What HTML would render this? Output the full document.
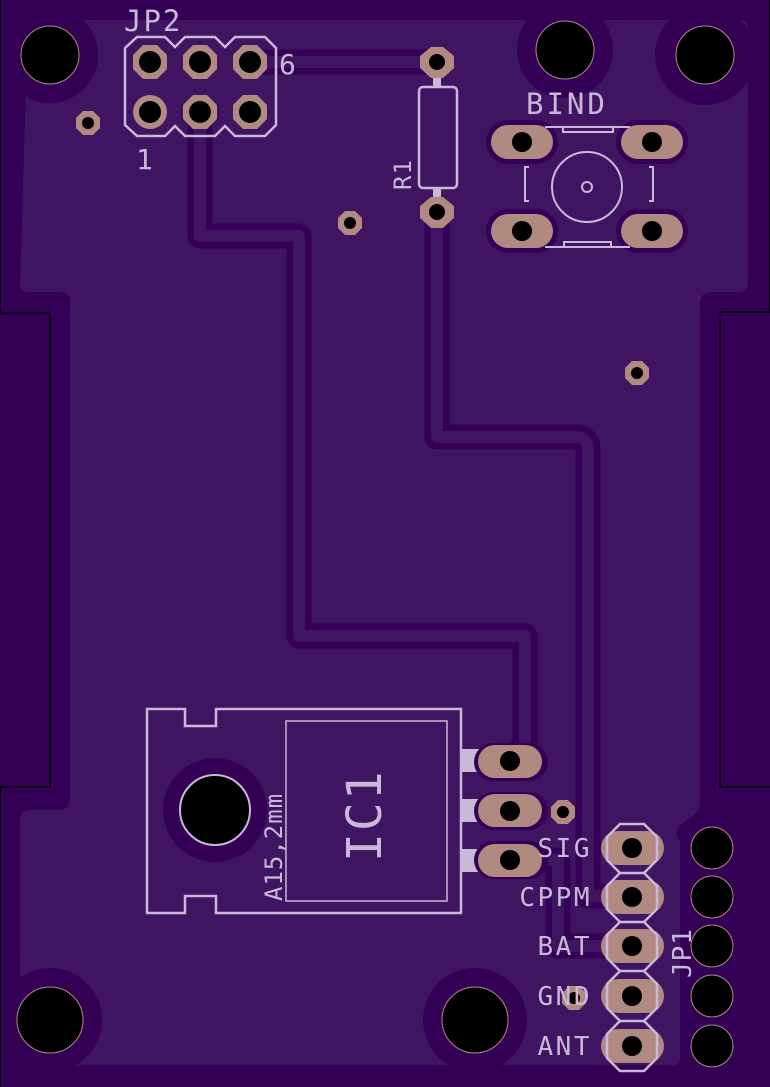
<!DOCTYPE html>
<html><head><meta charset="utf-8"><style>
html,body{margin:0;padding:0;background:#330055;}
svg{display:block}
text{font-family:"DejaVu Sans Mono","Liberation Mono",monospace;fill:#c9b8d8}
</style></head><body>
<svg width="770" height="1087" viewBox="0 0 770 1087" xmlns="http://www.w3.org/2000/svg">
<rect width="770" height="1087" fill="#330055"/>
<path d="M28 20 H740 Q748 20 748 28 V282 Q748 292 738 292 H712 Q700 292 700 304 V800 Q700 812 690 818 Q670 830 680 840 V1058 Q680 1065 672 1065 H28 Q20 1065 20 1057 V820 Q20 810 32 810 H58 Q70 810 70 798 V302 Q70 292 58 292 H28 Q20 292 20 284 Z" fill="#3f1461"/>
<g fill="#330055">
<circle cx="50" cy="55" r="48"/><circle cx="565" cy="50" r="48"/><circle cx="705" cy="55" r="50"/>
<circle cx="50" cy="1020" r="52"/><circle cx="475" cy="1020" r="52"/><circle cx="215" cy="810" r="52"/>
</g>
<g fill="none" stroke-linejoin="round" stroke-linecap="round">
<g stroke="#330055" stroke-width="25">
<path d="M200 112 V236 H299 V636 H525 V745 L510 761"/>
<path d="M250 62 H437"/>
<path d="M437 212 V437 H575 Q588 437 588 450 V896 H632"/>
<path d="M510 860 H558 V946 H632"/>
</g>
<g stroke="#3f1461" stroke-width="12">
<path d="M200 112 V236 H299 V636 H525 V745 L510 761"/>
<path d="M250 62 H437"/>
<path d="M437 212 V437 H575 Q588 437 588 450 V896 H632"/>
<path d="M510 860 H558 V946 H632"/>
</g>
</g>
<rect x="-1" y="313" width="51" height="474" fill="#330055" stroke="#000" stroke-width="1.5"/>
<rect x="720" y="312" width="51" height="475" fill="#330055" stroke="#000" stroke-width="1.5"/>
<line x1="0.5" y1="0" x2="0.5" y2="313" stroke="#000"/><line x1="0.5" y1="787" x2="0.5" y2="1087" stroke="#000"/>
<line x1="769.5" y1="0" x2="769.5" y2="312" stroke="#000"/>
<g fill="#000" stroke="#b08a80" stroke-width="1">
<circle cx="50" cy="55" r="29"/><circle cx="565" cy="50" r="29"/><circle cx="705" cy="55" r="29"/>
<circle cx="50" cy="1020" r="33"/><circle cx="475" cy="1020" r="33"/>
<circle cx="712" cy="848" r="21"/><circle cx="712" cy="897" r="21"/><circle cx="712" cy="946" r="21"/><circle cx="712" cy="996" r="21"/><circle cx="712" cy="1046" r="21"/>
</g>
<circle cx="215" cy="810" r="35" fill="#000" stroke="#c9b8d8" stroke-width="2"/>
<g fill="#b08a80">
<polygon points="83,111 93,111 100,118 100,128 93,135 83,135 76,128 76,118"/>
<polygon points="345,211 355,211 362,218 362,228 355,235 345,235 338,228 338,218"/>
<polygon points="632,361 642,361 649,368 649,378 642,385 632,385 625,378 625,368"/>
<polygon points="558,800 568,800 575,807 575,817 568,824 558,824 551,817 551,807"/>
<polygon points="569,986 579,986 586,993 586,1003 579,1010 569,1010 562,1003 562,993"/>
</g>
<g fill="#000"><circle cx="88" cy="123" r="6"/><circle cx="350" cy="223" r="6"/><circle cx="637" cy="373" r="6"/><circle cx="563" cy="812" r="6"/><circle cx="574" cy="998" r="6"/></g>
<path d="M137 37 H165 L175 47 L185 37 H215 L225 47 L235 37 H265 L276 48 V125 L265 136 H235 L225 126 L215 136 H185 L175 126 L165 136 H137 L125 125 V48 Z" fill="none" stroke="#c9b8d8" stroke-width="2.5"/>
<g fill="#b08a80">
<polygon points="143,45 157,45 167,55 167,69 157,79 143,79 133,69 133,55"/>
<polygon points="193,45 207,45 217,55 217,69 207,79 193,79 183,69 183,55"/>
<polygon points="243,45 257,45 267,55 267,69 257,79 243,79 233,69 233,55"/>
<circle cx="150" cy="112" r="17"/>
<polygon points="193,95 207,95 217,105 217,119 207,129 193,129 183,119 183,105"/>
<polygon points="243,95 257,95 267,105 267,119 257,129 243,129 233,119 233,105"/>
</g>
<g fill="#000"><circle cx="150" cy="62" r="11"/><circle cx="200" cy="62" r="11"/><circle cx="250" cy="62" r="11"/><circle cx="150" cy="112" r="11"/><circle cx="200" cy="112" r="11"/><circle cx="250" cy="112" r="11"/></g>
<text x="124" y="31" font-size="29" letter-spacing="2">JP2</text>
<text x="279" y="74" font-size="28">6</text>
<text x="136" y="169" font-size="28">1</text>
<rect x="433" y="76" width="8" height="14" fill="#c9b8d8"/><rect x="433" y="186" width="8" height="14" fill="#c9b8d8"/>
<rect x="419" y="87" width="38" height="101" rx="4" fill="#3f1461" stroke="#c9b8d8" stroke-width="2.5"/>
<polygon points="431,47 443,47 454,56 454,68 443,78 431,78 420,68 420,56" fill="#b08a80"/>
<polygon points="431,197 443,197 454,206 454,218 443,228 431,228 420,218 420,206" fill="#b08a80"/>
<circle cx="437" cy="62" r="8" fill="#000"/><circle cx="437" cy="212" r="8" fill="#000"/>
<text transform="translate(411,190) rotate(-90)" font-size="24" letter-spacing="1">R1</text>
<text x="526" y="114" font-size="29" letter-spacing="3">BIND</text>
<g fill="#330055"><rect x="486" y="120" width="72" height="44" rx="22"/><rect x="616" y="120" width="72" height="44" rx="22"/><rect x="486" y="209" width="72" height="44" rx="22"/><rect x="616" y="209" width="72" height="44" rx="22"/></g>
<g fill="#b08a80"><rect x="491" y="125" width="62" height="34" rx="17"/><rect x="621" y="125" width="62" height="34" rx="17"/><rect x="491" y="214" width="62" height="34" rx="17"/><rect x="621" y="214" width="62" height="34" rx="17"/></g>
<g fill="#000"><circle cx="522" cy="142" r="10"/><circle cx="652" cy="142" r="10"/><circle cx="522" cy="231" r="10"/><circle cx="652" cy="231" r="10"/></g>
<g fill="none" stroke="#c9b8d8" stroke-width="2">
<circle cx="587" cy="187" r="35"/><circle cx="587" cy="187" r="5"/>
<path d="M545 127 H630 M563 127 V132 H613 V127"/>
<path d="M545 247 H630 M564 247 V242 H611 V247"/>
<path d="M529 167 H525 V201 H529"/>
<path d="M649 167 H653 V201 H649"/>
</g>
<path d="M147 709 H185 V726 H216 V709 H461 V913 H216 V896 H185 V913 H147 Z" fill="none" stroke="#c9b8d8" stroke-width="2.5"/>
<rect x="286" y="721" width="161" height="180" fill="none" stroke="#c9b8d8" stroke-width="1.5"/>
<g fill="#c9b8d8"><rect x="461" y="749" width="18" height="23"/><rect x="461" y="799" width="18" height="23"/><rect x="461" y="849" width="18" height="23"/></g>
<g fill="#330055"><rect x="474" y="743" width="74" height="38" rx="19"/><rect x="474" y="792" width="74" height="38" rx="19"/><rect x="474" y="841" width="74" height="38" rx="19"/></g>
<g fill="#b08a80"><rect x="478" y="745" width="64" height="33" rx="16.5"/><rect x="478" y="794" width="64" height="33" rx="16.5"/><rect x="478" y="844" width="64" height="33" rx="16.5"/></g>
<g fill="#000"><circle cx="510" cy="761" r="10"/><circle cx="510" cy="811" r="10"/><circle cx="510" cy="860" r="10"/></g>
<text transform="translate(381,862) rotate(-90)" font-size="48" letter-spacing="2">IC1</text>
<text transform="translate(282,901) rotate(-90)" font-size="24" letter-spacing="1">A15,2mm</text>
<g fill="#b08a80">
<rect x="601" y="831" width="63" height="34" rx="17"/><rect x="601" y="880" width="63" height="34" rx="17"/><rect x="601" y="929" width="63" height="34" rx="17"/><rect x="601" y="979" width="63" height="34" rx="17"/><rect x="601" y="1029" width="63" height="34" rx="17"/>
</g>
<g fill="none" stroke="#c9b8d8" stroke-width="2.5">
<path d="M620 824 H644 L657 837 V860 L644 873 L657 886 V909 L644 922 L657 935 V958 L644 971 L657 984 V1008 L644 1021 L657 1034 V1058 L644 1071 H620 L607 1058 V1034 L620 1021 L607 1008 V984 L620 971 L607 958 V935 L620 922 L607 909 V886 L620 873 L607 860 V837 Z"/>
<path d="M620 873 H644 M620 922 H644 M620 971 H644 M620 1021 H644"/>
</g>
<g fill="#000"><circle cx="632" cy="848" r="10"/><circle cx="632" cy="897" r="10"/><circle cx="632" cy="946" r="10"/><circle cx="632" cy="996" r="10"/><circle cx="632" cy="1046" r="10"/></g>
<g font-size="26" text-anchor="end" letter-spacing="2.5">
<text x="592" y="857">SIG</text><text x="592" y="906">CPPM</text><text x="592" y="955">BAT</text><text x="592" y="1005">GND</text><text x="592" y="1055">ANT</text>
</g>
<text transform="translate(691,978) rotate(-90)" font-size="26" letter-spacing="1">JP1</text>
</svg>
</body></html>
